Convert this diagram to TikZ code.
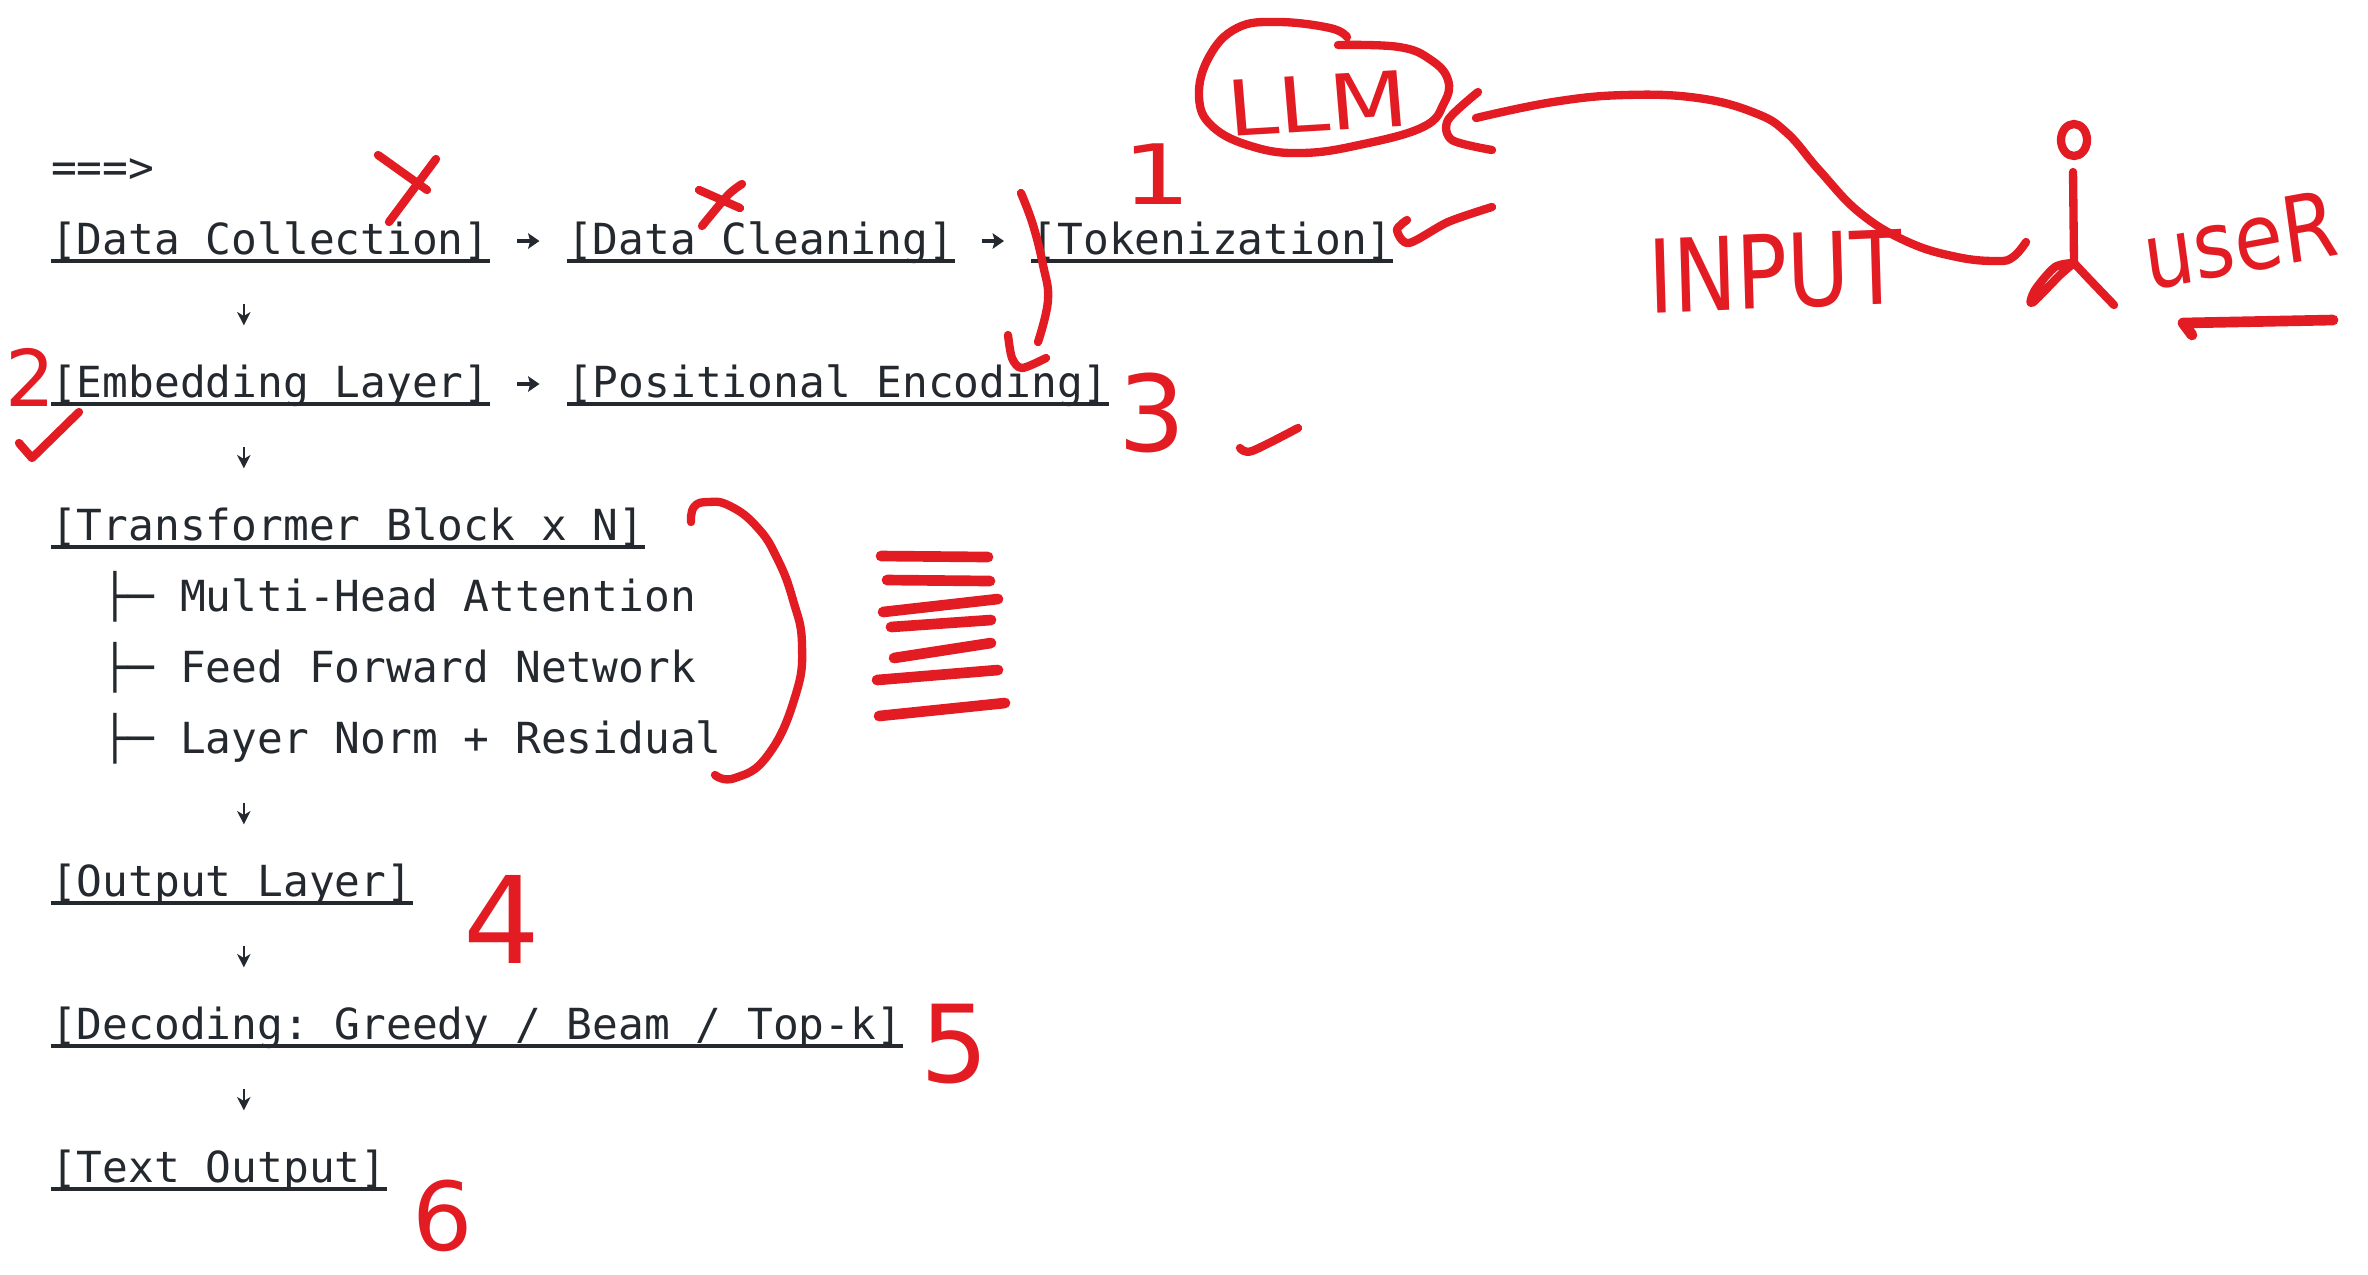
\documentclass[tikz,border=0pt]{standalone}
\usepackage{fontspec}
\setmonofont{DejaVu Sans Mono}
\setsansfont{DejaVu Sans}
\usetikzlibrary{arrows.meta}
\definecolor{codeink}{HTML}{24292F}
\definecolor{penred}{HTML}{E31B23}
\tikzset{
  codeline/.style={anchor=base west,inner sep=0pt,text=codeink,text height=9.6pt,text depth=1.8pt,
    font=\ttfamily\fontsize{12.85}{15}\selectfont},
  uline/.style={draw=codeink,line width=1.1pt},
  rightarr/.style={-{Stealth[length=3.4pt,width=4.6pt,inset=0.6pt]},draw=codeink,line width=1.1pt,shorten <=8.1pt,shorten >=8.1pt},
  downarr/.style={-{Stealth[length=4pt,width=4pt,inset=1.2pt]},draw=codeink,line width=0.65pt,shorten <=12.9pt,shorten >=11.7pt},
  pen/.style={draw=penred,line width=2.5pt,line cap=round,line join=round},
  fatpen/.style={pen,line width=3.2pt},
  handtext/.style={inner sep=0pt,text=penred,font=\sffamily\fontsize{25}{25}\selectfont},
}
\begin{document}
\begin{tikzpicture}[x=0.3pt,y=-0.3pt]
\useasboundingbox (0,0) rectangle (2368,1274);

\node[codeline] (start) at (50.5,182) {===>};
\node[codeline] (collect) at (50.5,254) {[Data Collection]};
\node[codeline] (clean) at (566.5,254) {[Data Cleaning]};
\node[codeline] (token) at (1031,254) {[Tokenization]};
\node[codeline] (embed) at (50.5,397) {[Embedding Layer]};
\node[codeline] (posenc) at (566.5,397) {[Positional Encoding]};
\node[codeline] (block) at (50.5,540) {[Transformer Block x N]};
\node[codeline] (attn) at (50.5,611) {\ \ ├─ Multi-Head Attention};
\node[codeline] (feed) at (50.5,682) {\ \ ├─ Feed Forward Network};
\node[codeline] (norm) at (50.5,753) {\ \ ├─ Layer Norm + Residual};
\node[codeline] (outlayer) at (50.5,896) {[Output Layer]};
\node[codeline] (decode) at (50.5,1039) {[Decoding: Greedy / Beam / Top-k]};
\node[codeline] (textout) at (50.5,1182) {[Text Output]};

\foreach \n in {collect,clean,token,embed,posenc,block,outlayer,decode,textout}
  \draw[uline] (\n.south west) -- (\n.south east);

\draw[rightarr] (collect.east) -- (clean.west);
\draw[rightarr] (clean.east) -- (token.west);
\draw[rightarr] (embed.east) -- (posenc.west);
\foreach \a/\b in {collect/embed,embed/block,norm/outlayer,outlayer/decode,decode/textout}
  \draw[downarr] ([xshift=58pt]\a.south west) -- ([xshift=58pt]\b.north west);

\node[handtext,scale=1.0,xscale=1.3] (one) at (1157,174) {1};
\node[handtext,scale=0.94] (two) at (30,377) {2};
\node[handtext,scale=1.27] (three) at (1152,413) {3};
\node[handtext,scale=1.45] (four) at (502,919) {4};
\node[handtext,scale=1.29] (five) at (955,1044) {5};
\node[handtext,scale=1.14] (six) at (443,1216) {6};
\node[handtext,xscale=1.1,yscale=0.92,rotate=4] (llm) at (1318,103) {LLM};
\node[handtext,xscale=1.02,yscale=1.22,rotate=2] (input) at (1775,272) {INPUT};
\node[handtext,xscale=0.95,yscale=1.1,rotate=9] (user) at (2240,240) {useR};

\draw[pen] (378,155) -- (427,190);
\draw[pen] (436,159) -- (389,222);
\draw[pen] (699,190) -- (740,208);
\draw[pen] plot[smooth] coordinates {(742,184) (728,195) (702,226)};
\draw[pen] plot[smooth,tension=0.7] coordinates {(1021,193) (1033,225) (1043,265) (1048,300) (1038,342)};
\draw[pen] plot[smooth] coordinates {(1008,335) (1012,358) (1022,368) (1046,358)};
\draw[pen] plot[smooth] coordinates {(1407,220) (1397,230) (1409,243) (1448,222) (1492,207)};
\draw[pen] plot[smooth,tension=0.7] coordinates {(1347,37) (1330,28) (1278,22) (1237,28) (1209,57) (1199,97) (1213,127) (1254,147) (1302,153) (1359,145) (1423,127) (1444,103) (1448,80) (1431,60) (1399,47) (1338,45)};
\draw[pen] plot[smooth] coordinates {(1478,92) (1448,120) (1452,140) (1492,150)};
\draw[pen] plot[smooth,tension=0.7] coordinates {(1476,118) (1553,102) (1625,95) (1698,98) (1755,113) (1787,133) (1819,170) (1860,213) (1908,242) (1957,257) (1997,261) (2013,257) (2026,242)};
\draw[pen] (2074,140) ellipse (13 and 16);
\draw[pen] (2073,172) -- (2074,263);
\draw[pen] plot[smooth] coordinates {(2074,263) (2090,280) (2114,305)};
\draw[pen] plot[smooth] coordinates {(2074,263) (2055,267) (2035,290) (2032,303) (2060,275) (2074,263)};
\draw[fatpen] (2333,320) -- (2183,323) -- (2192,335);
\draw[pen] plot[smooth,tension=0.8] coordinates {(691,522) (694,507) (708,502) (730,506) (757,527) (777,558) (793,600) (802,645) (795,697) (768,755) (735,778) (715,775)};
\draw[fatpen] (881,556) -- (988,557);
\draw[fatpen] (887,580) -- (990,581);
\draw[fatpen] (883,612) -- (998,599);
\draw[fatpen] (891,627) -- (991,620);
\draw[fatpen] (894,658) -- (991,643);
\draw[fatpen] (877,680) -- (998,670);
\draw[fatpen] (879,716) -- (1005,703);
\draw[pen] (19,443) -- (32,458) -- (79,412);
\draw[pen] plot[smooth] coordinates {(1240,448) (1252,451) (1298,428)};

\end{tikzpicture}
\end{document}
